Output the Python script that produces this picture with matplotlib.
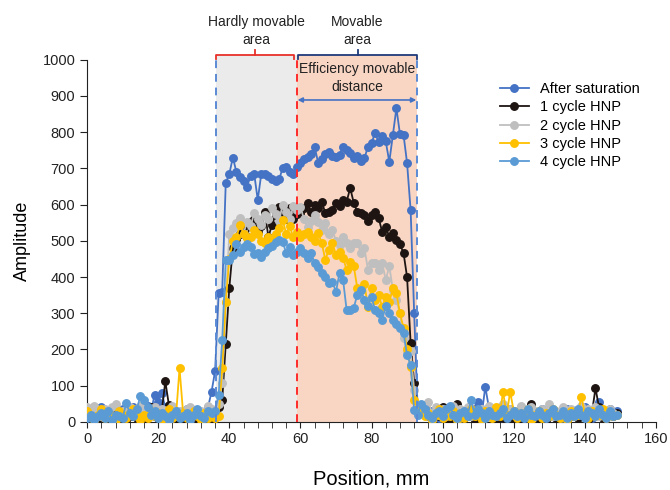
import numpy as np
import matplotlib
matplotlib.use("Agg")
import matplotlib.pyplot as plt
from matplotlib.ticker import MultipleLocator

plt.rcParams["font.family"] = ["Liberation Sans", "DejaVu Sans"]

# ---- data (amplitude vs position, 1 mm steps from 0 mm)
labels = ["After saturation", "1 cycle HNP", "2 cycle HNP", "3 cycle HNP", "4 cycle HNP"]
colors = ["#4472C4", "#1E1512", "#BFBFBF", "#FFC000", "#5B9BD5"]

# 0..35 mm
after_left = [20, 35, 10, 25, 40, 15, 5, 30, 20, 10, 35, 25, 15, 40, 20, 30, 10, 45,
              30, 75, 55, 80, 40, 25, 15, 30, 20, 10, 35, 25, 15, 30, 20, 10, 40, 83]
c1_left = [15, 5, 25, 10, 30, 20, 5, 15, 35, 10, 20, 5, 30, 15, 10, 25, 5, 20,
           40, 15, 10, 30, 112, 47, 20, 10, 25, 5, 15, 30, 10, 20, 5, 25, 15, 10]
c2_left = [40, 25, 45, 30, 15, 35, 20, 40, 50, 25, 30, 15, 40, 20, 35, 45, 25, 30,
           15, 40, 20, 35, 30, 25, 45, 20, 30, 15, 35, 40, 25, 20, 30, 15, 45, 35]
c3_left = [30, 15, 5, 20, 35, 10, 25, 15, 5, 30, 20, 10, 25, 35, 15, 5, 20, 10,
           30, 15, 25, 5, 20, 35, 10, 15, 148, 25, 10, 20, 30, 15, 5, 25, 10, 20]
c4_left = [10, 20, 5, 15, 25, 10, 30, 5, 20, 15, 10, 52, 25, 15, 35, 72, 60, 40,
           20, 30, 10, 25, 15, 5, 20, 30, 10, 15, 25, 5, 20, 35, 15, 10, 30, 25]

# 36..59 mm (hardly movable area)
after_hard = [140, 355, 360, 660, 685, 730, 690, 675, 665, 650, 680, 685, 613, 685,
              685, 680, 670, 665, 670, 700, 705, 690, 685, 705]
c1_hard = [20, 40, 60, 215, 370, 480, 505, 520, 540, 510, 553, 560, 525, 540,
           580, 510, 545, 570, 594, 580, 560, 590, 560, 575]
c2_hard = [30, 50, 108, 330, 520, 536, 550, 564, 520, 553, 540, 577, 560, 545,
           570, 560, 590, 575, 555, 600, 580, 560, 595, 585]
c3_hard = [10, 15, 149, 330, 450, 500, 510, 544, 520, 508, 511, 530, 520, 500,
           494, 510, 505, 520, 535, 558, 520, 540, 510, 525]
c4_hard = [30, 75, 226, 447, 447, 461, 490, 470, 483, 490, 483, 465, 467, 456,
           470, 480, 486, 497, 503, 497, 467, 483, 461, 470]

# 60..93 mm (movable area)
after_mov = [715, 725, 732, 740, 760, 715, 725, 740, 746, 735, 732, 737, 760, 750,
             743, 730, 735, 720, 728, 760, 770, 798, 772, 790, 775, 718, 793, 866,
             795, 793, 715, 585, 300, 30]
c1_mov = [577, 590, 605, 580, 599, 590, 608, 577, 580, 585, 605, 595, 613, 608,
          646, 605, 580, 577, 572, 555, 572, 580, 563, 525, 539, 511, 522, 503,
          490, 467, 400, 218, 108, 33]
c2_mov = [594, 560, 539, 555, 570, 553, 530, 550, 520, 530, 500, 489, 510, 494,
          480, 494, 494, 467, 480, 420, 439, 439, 420, 439, 392, 430, 365, 337,
          300, 232, 193, 195, 88, 40]
c3_mov = [511, 520, 525, 511, 500, 522, 494, 448, 475, 494, 461, 470, 453, 420,
          442, 430, 370, 365, 380, 318, 370, 337, 350, 318, 345, 330, 370, 356,
          300, 260, 200, 152, 60, 33]
c4_mov = [480, 467, 453, 467, 439, 428, 411, 400, 384, 387, 359, 411, 392, 309,
          309, 315, 351, 365, 337, 320, 345, 309, 301, 282, 320, 300, 280, 270,
          260, 246, 185, 157, 33, 20]

# 94..149 mm
after_right = [40, 25, 15, 30, 20, 10, 35, 25, 15, 40, 20, 10, 30, 25, 15, 35,
               55, 20, 97, 40, 15, 25, 30, 10, 20, 35, 15, 25, 40, 10, 20, 30,
               15, 25, 35, 10, 20, 30, 15, 25, 10, 35, 20, 30, 15, 25, 40, 20,
               10, 30, 55, 25, 15, 35, 20, 30]
c1_right = [30, 45, 20, 10, 25, 15, 40, 10, 5, 20, 50, 25, 10, 30, 15, 5,
            20, 10, 25, 15, 30, 5, 20, 10, 15, 25, 5, 20, 10, 30, 15, 50,
            25, 10, 20, 5, 15, 30, 10, 20, 25, 5, 15, 30, 10, 20, 15, 5,
            25, 93, 40, 10, 20, 30, 15, 25]
c2_right = [45, 30, 55, 25, 40, 20, 35, 15, 30, 45, 20, 35, 25, 40, 15, 30,
            20, 35, 25, 45, 30, 15, 40, 50, 25, 35, 20, 30, 45, 15, 25, 40,
            30, 20, 35, 25, 50, 15, 30, 20, 40, 25, 35, 15, 30, 45, 20, 35,
            25, 40, 15, 30, 20, 35, 25, 20]
c3_right = [30, 15, 25, 5, 20, 35, 10, 25, 15, 30, 5, 20, 10, 25, 35, 15,
            20, 5, 30, 25, 10, 40, 15, 83, 20, 83, 30, 10, 25, 15, 35, 5,
            20, 30, 10, 25, 15, 35, 20, 10, 25, 5, 30, 15, 20, 69, 25, 10,
            30, 15, 20, 35, 10, 25, 15, 20]
c4_right = [50, 35, 20, 10, 25, 30, 15, 35, 45, 20, 10, 25, 30, 15, 61, 20,
            35, 25, 10, 30, 20, 15, 25, 35, 10, 20, 30, 15, 25, 10, 35, 20,
            15, 30, 20, 10, 25, 35, 15, 20, 30, 10, 25, 15, 35, 20, 10, 30,
            25, 15, 35, 20, 10, 30, 15, 20]

series = [
    after_left + after_hard + after_mov + after_right,
    c1_left + c1_hard + c1_mov + c1_right,
    c2_left + c2_hard + c2_mov + c2_right,
    c3_left + c3_hard + c3_mov + c3_right,
    c4_left + c4_hard + c4_mov + c4_right,
]

# zone boundaries (mm)
x_start, x_mid, x_end = 36.3, 59.0, 92.8
y_top = 1014

fig = plt.figure(figsize=(6.7, 4.9), dpi=100)
ax = fig.add_axes([0.130, 0.139, 0.849, 0.739])

# shaded zones
ax.fill_between([x_start, x_mid], 0, y_top, color="#EBEBEB", lw=0, zorder=0, clip_on=False)
ax.fill_between([x_mid, x_end], 0, y_top, color="#F9D5C3", lw=0, zorder=0, clip_on=False)

for vals, lab, col in zip(series, labels, colors):
    x = np.arange(len(vals))
    ax.plot(x, vals, "-o", color=col, lw=1.3, ms=5.4, label=lab, zorder=3)

# boundary lines
ax.plot([x_start, x_start], [0, y_top], ls=(0, (4, 3)), color="#5B8BD5", lw=1.4, zorder=4, clip_on=False)
ax.plot([x_mid, x_mid], [0, y_top], ls=(0, (4, 3)), color="#FF2A2A", lw=1.4, zorder=4, clip_on=False)
ax.plot([x_end, x_end], [0, y_top], ls=(0, (4, 3)), color="#5B8BD5", lw=1.4, zorder=4, clip_on=False)

# brackets
def bracket(x0, x1, col):
    xm = (x0 + x1) / 2
    ax.plot([x0, x0, x1, x1], [y_top - 12, y_top, y_top, y_top - 12], color=col, lw=1.3,
            clip_on=False, zorder=5)
    ax.plot([xm, xm], [y_top, y_top + 14], color=col, lw=1.3, clip_on=False, zorder=5)

bracket(x_start, x_mid - 0.8, "#E8302A")
bracket(x_mid + 0.4, x_end, "#1F3A7A")

ax.text((x_start + x_mid) / 2, y_top + 22, "Hardly movable\narea", ha="center", va="bottom",
        fontsize=10, linespacing=1.3, color="#222222")
ax.text((x_mid + x_end) / 2, y_top + 22, "Movable\narea", ha="center", va="bottom",
        fontsize=10, linespacing=1.3, color="#222222")
ax.text((x_mid + x_end) / 2, 950, "Efficiency movable\ndistance", ha="center", va="center",
        fontsize=10, linespacing=1.3, color="#222222", zorder=6)
ax.annotate("", xy=(x_mid + 0.2, 889), xytext=(x_end - 0.2, 889),
            arrowprops=dict(arrowstyle="<|-|>", color="#4472C4", lw=1.2,
                            mutation_scale=7, shrinkA=0, shrinkB=0), zorder=6)

# axes
ax.set_xlim(0, 160)
ax.set_ylim(0, 1000)
ax.xaxis.set_major_locator(MultipleLocator(20))
ax.xaxis.set_minor_locator(MultipleLocator(4))
ax.yaxis.set_major_locator(MultipleLocator(100))
ax.tick_params(axis="both", which="both", direction="out", labelsize=10.5, colors="#222222")
ax.tick_params(axis="x", which="major", length=4)
ax.tick_params(axis="x", which="minor", length=4)
ax.tick_params(axis="y", length=5)
for s in ("top", "right"):
    ax.spines[s].set_visible(False)
for s in ("left", "bottom"):
    ax.spines[s].set_color("#222222")
ax.set_xlabel("Position, mm", fontsize=14.5, labelpad=17)
ax.set_ylabel("Amplitude", fontsize=13, labelpad=8)

ax.legend(loc="upper left", bbox_to_anchor=(0.715, 0.955), frameon=False, fontsize=10.5,
          handlelength=2.0, labelspacing=0.3, borderaxespad=0)

fig.savefig("out.png", dpi=100)
